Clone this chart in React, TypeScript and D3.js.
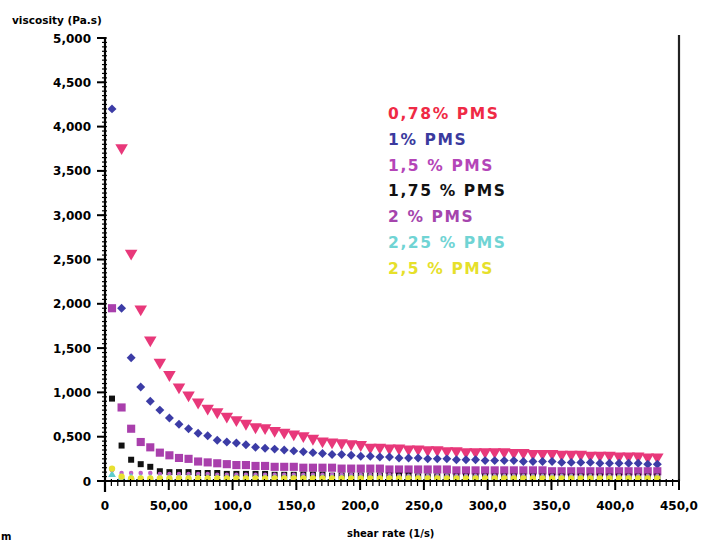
import React from "react";
import * as d3 from "d3";

const shearRate = [5.5, 13, 20.5, 28, 35.5, 43, 50.5, 58, 65.5, 73, 80.5, 88, 95.5, 103, 110.5, 118, 125.5, 133, 140.5, 148, 155.5, 163, 170.5, 178, 185.5, 193, 200.5, 208, 215.5, 223, 230.5, 238, 245.5, 253, 260.5, 268, 275.5, 283, 290.5, 298, 305.5, 313, 320.5, 328, 335.5, 343, 350.5, 358, 365.5, 373, 380.5, 388, 395.5, 403, 410.5, 418, 425.5, 433];

const pms078 = [null, 3.76, 2.57, 1.94, 1.59, 1.34, 1.2, 1.06, 0.97, 0.89, 0.82, 0.78, 0.73, 0.69, 0.65, 0.61, 0.6, 0.57, 0.55, 0.53, 0.51, 0.48, 0.45, 0.44, 0.43, 0.42, 0.41, 0.38, 0.38, 0.37, 0.37, 0.36, 0.36, 0.35, 0.35, 0.34, 0.34, 0.33, 0.33, 0.33, 0.33, 0.33, 0.32, 0.32, 0.31, 0.31, 0.31, 0.3, 0.3, 0.3, 0.29, 0.29, 0.29, 0.28, 0.28, 0.28, 0.27, 0.27];
const pms100 = [4.2, 1.95, 1.39, 1.06, 0.9, 0.8, 0.71, 0.64, 0.59, 0.54, 0.51, 0.46, 0.44, 0.43, 0.41, 0.38, 0.37, 0.36, 0.35, 0.34, 0.33, 0.32, 0.31, 0.3, 0.3, 0.29, 0.28, 0.28, 0.27, 0.27, 0.26, 0.26, 0.26, 0.25, 0.25, 0.25, 0.24, 0.24, 0.24, 0.23, 0.23, 0.23, 0.23, 0.22, 0.22, 0.22, 0.22, 0.21, 0.21, 0.21, 0.21, 0.2, 0.2, 0.2, 0.2, 0.2, 0.19, 0.19];
const pms150 = [1.95, 0.83, 0.59, 0.44, 0.38, 0.32, 0.29, 0.26, 0.25, 0.22, 0.21, 0.2, 0.19, 0.18, 0.18, 0.17, 0.17, 0.16, 0.16, 0.16, 0.15, 0.15, 0.15, 0.15, 0.14, 0.14, 0.14, 0.14, 0.14, 0.13, 0.13, 0.13, 0.13, 0.13, 0.13, 0.13, 0.12, 0.12, 0.12, 0.12, 0.12, 0.12, 0.12, 0.12, 0.12, 0.12, 0.11, 0.11, 0.11, 0.11, 0.11, 0.11, 0.11, 0.11, 0.11, 0.11, 0.11, 0.11];
const pms175 = [0.93, 0.4, 0.24, 0.19, 0.16, 0.11, 0.1, 0.1, 0.1, 0.09, 0.09, 0.09, 0.08, 0.08, 0.08, 0.08, 0.08, 0.07, 0.07, 0.07, 0.07, 0.07, 0.07, 0.06, 0.06, 0.06, 0.06, 0.06, 0.06, 0.06, 0.06, 0.06, 0.05, 0.05, 0.05, 0.05, 0.05, 0.05, 0.05, 0.05, 0.05, 0.05, 0.05, 0.05, 0.05, 0.05, 0.05, 0.05, 0.05, 0.05, 0.05, 0.05, 0.05, 0.05, 0.05, 0.05, 0.05, 0.05];
const pms200 = [0.12, 0.09, 0.09, 0.09, 0.09, 0.08, 0.08, 0.08, 0.08, 0.08, 0.08, 0.07, 0.07, 0.07, 0.07, 0.07, 0.07, 0.07, 0.07, 0.07, 0.07, 0.07, 0.07, 0.07, 0.07, 0.07, 0.07, 0.07, 0.07, 0.07, 0.06, 0.06, 0.06, 0.06, 0.06, 0.06, 0.06, 0.06, 0.06, 0.06, 0.06, 0.06, 0.06, 0.06, 0.06, 0.06, 0.06, 0.06, 0.06, 0.06, 0.06, 0.06, 0.06, 0.06, 0.06, 0.06, 0.06, 0.06];
const pms225 = [0.07, 0.04, 0.04, 0.03, 0.03, 0.03, 0.03, 0.03, 0.03, 0.03, 0.03, 0.03, 0.03, 0.03, 0.03, 0.03, 0.03, 0.03, 0.03, 0.03, 0.03, 0.03, 0.03, 0.03, 0.03, 0.03, 0.03, 0.03, 0.03, 0.03, 0.03, 0.03, 0.03, 0.03, 0.03, 0.03, 0.03, 0.03, 0.03, 0.03, 0.03, 0.03, 0.03, 0.03, 0.03, 0.03, 0.03, 0.03, 0.03, 0.03, 0.03, 0.03, 0.03, 0.03, 0.03, 0.03, 0.03, 0.03];
const pms250 = [0.14, 0.05, 0.03, 0.03, 0.03, 0.03, 0.03, 0.03, 0.03, 0.03, 0.03, 0.03, 0.03, 0.03, 0.03, 0.03, 0.03, 0.03, 0.03, 0.03, 0.03, 0.03, 0.03, 0.03, 0.03, 0.03, 0.03, 0.03, 0.03, 0.03, 0.03, 0.03, 0.03, 0.03, 0.03, 0.03, 0.03, 0.03, 0.03, 0.03, 0.03, 0.03, 0.03, 0.03, 0.03, 0.03, 0.03, 0.03, 0.03, 0.03, 0.03, 0.03, 0.03, 0.03, 0.03, 0.03, 0.03, 0.03];

const seriesNames = ["0,78% PMS", "1% PMS", "1,5 % PMS", "1,75 % PMS", "2 % PMS", "2,25 % PMS", "2,5 % PMS"];
const legendColors = ["#ef2a45", "#3b3a9e", "#b445b8", "#111111", "#a545ad", "#70d4d4", "#e6e02a"];

const xTicks = [0, 50, 100, 150, 200, 250, 300, 350, 400, 450];
const xTickLabels = ["0", "50,00", "100,0", "150,0", "200,0", "250,0", "300,0", "350,0", "400,0", "450,0"];
const yTicks = [0, 0.5, 1, 1.5, 2, 2.5, 3, 3.5, 4, 4.5, 5];
const yTickLabels = ["0", "0,500", "1,000", "1,500", "2,000", "2,500", "3,000", "3,500", "4,000", "4,500", "5,000"];

export default function App() {
  const x = d3.scaleLinear().domain([0, 450]).range([105, 679]);
  const y = d3.scaleLinear().domain([0, 5]).range([481, 38]);

  const series = [
    { values: pms078, color: "#e8387a", shape: d3.symbolTriangle, size: 68, rotate: 180 },
    { values: pms100, color: "#3c3ca6", shape: d3.symbolSquare, size: 40, rotate: 45 },
    { values: pms150, color: "#a93fac", shape: d3.symbolSquare, size: 66, rotate: 0 },
    { values: pms175, color: "#111111", shape: d3.symbolSquare, size: 36, rotate: 0 },
    { values: pms200, color: "#c060c8", shape: d3.symbolCircle, size: 16, rotate: 0 },
    { values: pms225, color: "#60cccc", shape: d3.symbolTriangle, size: 26, rotate: 0 },
    { values: pms250, color: "#e8e030", shape: d3.symbolCircle, size: 32, rotate: 0 },
  ];

  const minorX = d3.range(0, 451, 5);
  const minorY = d3.range(0, 5.001, 0.05);
  const font = "'DejaVu Sans', sans-serif";

  return (
    <svg width={701} height={541} style={{ position: "absolute", left: 0, top: 0, background: "#fff" }}>
      <rect x={0} y={0} width={701} height={541} fill="#fff" />
      {series.map((s, si) => {
        const path = d3.symbol().type(s.shape).size(s.size)();
        return (
          <g key={si}>
            {s.values.map((v, i) =>
              v == null ? null : (
                <path
                  key={i}
                  d={path as string}
                  fill={s.color}
                  transform={`translate(${x(shearRate[i])},${y(v)}) rotate(${s.rotate})`}
                />
              )
            )}
          </g>
        );
      })}
      <line x1={105} y1={37} x2={105} y2={492} stroke="#000" strokeWidth={2.2} />
      <line x1={100} y1={481} x2={679} y2={481} stroke="#000" strokeWidth={2.2} />
      <line x1={679} y1={35} x2={679} y2={481} stroke="#222" strokeWidth={2.2} />
      {minorY.map((v, i) => (
        <line key={"my" + i} x1={102} x2={107} y1={y(v)} y2={y(v)} stroke="#000" strokeWidth={1.2} />
      ))}
      {yTicks.map((v, i) => (
        <g key={"y" + i}>
          <line x1={97} x2={105} y1={y(v)} y2={y(v)} stroke="#000" strokeWidth={2} />
          <text x={91} y={y(v) + 4.5} textAnchor="end" fontFamily={font} fontWeight="bold" fontSize={12}>
            {yTickLabels[i]}
          </text>
        </g>
      ))}
      {minorX.map((v, i) => (
        <line key={"mx" + i} x1={x(v)} x2={x(v)} y1={479} y2={486} stroke="#000" strokeWidth={1.2} />
      ))}
      {xTicks.map((v, i) => (
        <g key={"x" + i}>
          <line x1={x(v)} x2={x(v)} y1={481} y2={490} stroke="#000" strokeWidth={2} />
          <text x={x(v)} y={510} textAnchor="middle" fontFamily={font} fontWeight="bold" fontSize={12}>
            {xTickLabels[i]}
          </text>
        </g>
      ))}
      <text x={12} y={24} fontFamily={font} fontWeight="bold" fontSize={10.5}>viscosity (Pa.s)</text>
      <text x={347} y={537} fontFamily={font} fontWeight="bold" fontSize={10}>shear rate (1/s)</text>
      <text x={1} y={540} fontFamily={font} fontWeight="bold" fontSize={10}>m</text>
      {seriesNames.map((n, i) => (
        <text
          key={"l" + i}
          x={388}
          y={119 + i * 25.8}
          fontFamily={font}
          fontWeight="bold"
          fontSize={15.5}
          letterSpacing={1.6}
          fill={legendColors[i]}
        >
          {n}
        </text>
      ))}
    </svg>
  );
}
